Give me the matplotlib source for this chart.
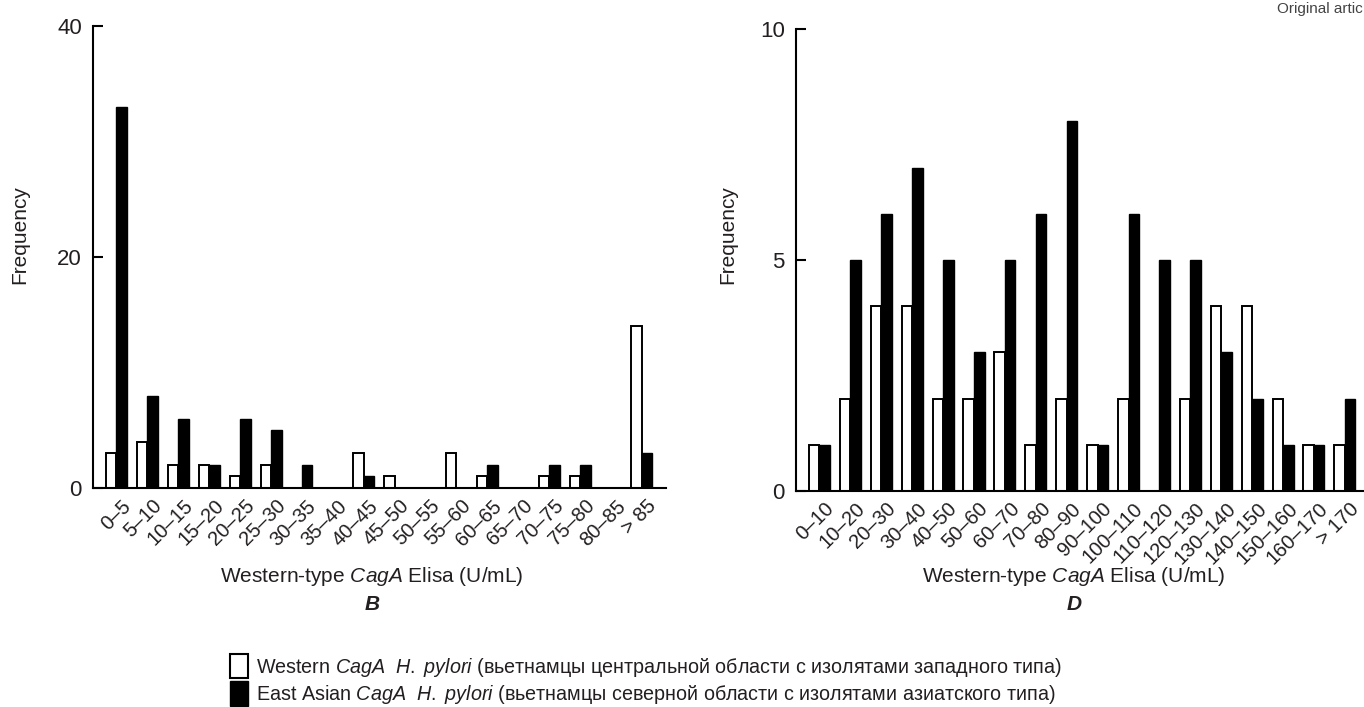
import matplotlib
matplotlib.use("Agg")
import matplotlib.pyplot as plt
from matplotlib.patches import Patch

plt.rcParams['font.family'] = ['Liberation Sans', 'DejaVu Sans']
plt.rcParams['mathtext.fontset'] = 'custom'
plt.rcParams['mathtext.rm'] = 'Liberation Sans'
plt.rcParams['mathtext.it'] = 'Liberation Sans:italic'
plt.rcParams['mathtext.bf'] = 'Liberation Sans:bold'

TXT = '#231f20'

# panel B: 5 U/mL bins
bins_b = ["0–5", "5–10", "10–15", "15–20", "20–25", "25–30", "30–35", "35–40",
          "40–45", "45–50", "50–55", "55–60", "60–65", "65–70", "70–75",
          "75–80", "80–85", "> 85"]
western_b = [3, 4, 2, 2, 1, 2, 0, 0, 3, 1, 0, 3, 1, 0, 1, 1, 0, 14]
east_asian_b = [33, 8, 6, 2, 6, 5, 2, 0, 1, 0, 0, 0, 2, 0, 2, 2, 0, 3]

# panel D: 10 U/mL bins
bins_d = ["0–10", "10–20", "20–30", "30–40", "40–50", "50–60", "60–70", "70–80",
          "80–90", "90–100", "100–110", "110–120", "120–130", "130–140",
          "140–150", "150–160", "160–170", "> 170"]
western_d = [1, 2, 4, 4, 2, 2, 3, 1, 2, 1, 2, 0, 2, 4, 4, 2, 1, 1]
east_asian_d = [1, 5, 6, 7, 5, 3, 5, 6, 8, 1, 6, 5, 5, 3, 2, 1, 1, 2]

W, H = 1364, 707
fig = plt.figure(figsize=(W / 100, H / 100), dpi=100)


def px_axes(x0, y0, x1, y1):
    # axes from pixel box (left, top, right, bottom)
    return fig.add_axes([x0 / W, 1 - y1 / H, (x1 - x0) / W, (y1 - y0) / H])


def draw_panel(ax, labels, west, east, ymax, yticks, xlim):
    x = list(range(len(labels)))
    bw = 0.34
    ax.bar([i - bw / 2 for i in x], west, width=bw, facecolor='white',
           edgecolor='black', linewidth=1.4)
    ax.bar([i + bw / 2 for i in x], east, width=bw, facecolor='black',
           edgecolor='black', linewidth=1.0)
    ax.set_xlim(*xlim)
    ax.set_ylim(0, ymax)
    ax.set_yticks(yticks)
    ax.set_xticks([i + 0.15 for i in x])
    ax.set_xticklabels(labels, rotation=45, ha='right', va='top',
                       rotation_mode='anchor', fontsize=14.5, color=TXT)
    for spine in ['top', 'right']:
        ax.spines[spine].set_visible(False)
    for spine in ['left', 'bottom']:
        ax.spines[spine].set_linewidth(1.5)
    ax.tick_params(axis='y', direction='in', length=7, width=1.5, pad=8,
                   labelsize=16, labelcolor=TXT)
    ax.tick_params(axis='x', length=0, pad=6)


axB = px_axes(93, 26, 666, 488)
draw_panel(axB, bins_b, western_b, east_asian_b, 40, [0, 20, 40],
           (-0.76, 17.78))
axD = px_axes(796, 29, 1364, 491)
draw_panel(axD, bins_d, western_d, east_asian_d, 10, [0, 5, 10],
           (-0.76, 17.62))

# axis titles
for cx, lx, letter in [(372, 20, 'B'), (1074, 728, 'D')]:
    fig.text(cx / W, 1 - 576 / H, r"Western-type $\it{CagA}$ Elisa (U/mL)",
             ha='center', va='center', fontsize=15, color=TXT)
    fig.text(cx / W, 1 - 604 / H, letter, ha='center', va='center',
             fontsize=15, fontweight='bold', fontstyle='italic', color=TXT)
    fig.text(lx / W, 1 - 235 / H, "Frequency", rotation=90, ha='center',
             va='center', fontsize=15, color=TXT)

# legend
handles = [Patch(facecolor='white', edgecolor='black', linewidth=1.5),
           Patch(facecolor='black', edgecolor='black')]
labels = [r"Western $\it{CagA\ \ H.\ pylori}$ (вьетнамцы центральной области с изолятами западного типа)",
          r"East Asian $\it{CagA\ \ H.\ pylori}$ (вьетнамцы северной области с изолятами азиатского типа)"]
fig.legend(handles, labels, loc='upper left', bbox_to_anchor=(230 / W, 1 - 654 / H),
           frameon=False, fontsize=14.2, handlelength=0.9, handleheight=1.5,
           handletextpad=0.4, labelspacing=0.15, borderpad=0, borderaxespad=0,
           labelcolor=TXT)

# running header of the page, cut by the right edge in the source
fig.text(1363 / W, 1 - 9 / H, "Original artic", ha='right', va='center',
         fontsize=11, color='#444444')

fig.savefig("out.png", dpi=100)
